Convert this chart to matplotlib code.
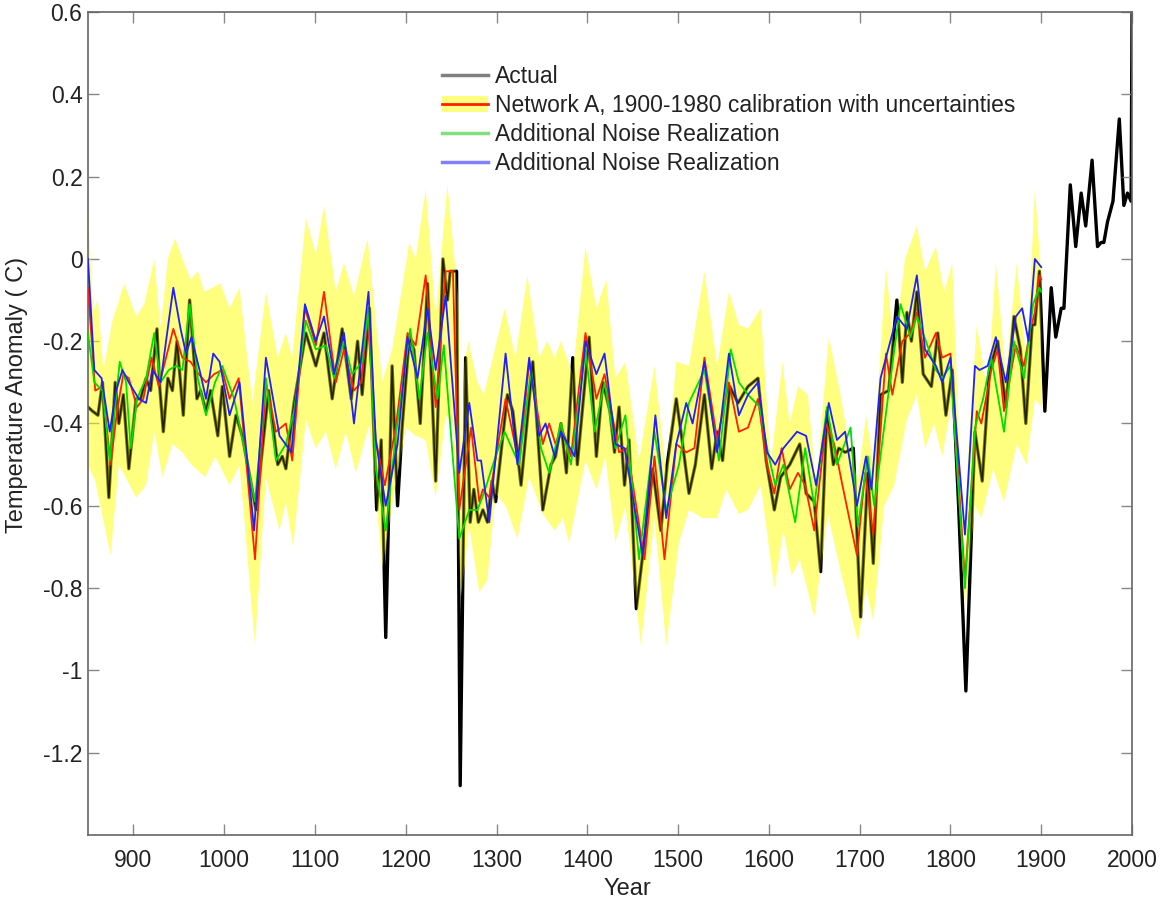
import numpy as np
import matplotlib
matplotlib.use("Agg")
import matplotlib.pyplot as plt
from matplotlib.lines import Line2D
from matplotlib.patches import Patch

plt.rcParams['font.family'] = ['Liberation Sans', 'DejaVu Sans']
plt.rcParams['axes.unicode_minus'] = False

# values (year, anomaly)
actual_years = [850, 855, 861, 866, 873, 880, 884, 889, 895, 903, 908, 914, 919, 926, 929, 933, 938, 943, 948, 955,
                962, 970, 974, 980, 985, 993, 998, 1006, 1013, 1020, 1035, 1049, 1059, 1064, 1068, 1077, 1090, 1101,
                1110, 1119, 1130, 1140, 1147, 1152, 1160, 1168, 1173, 1178, 1185, 1191, 1196, 1204, 1209, 1216, 1224,
                1233, 1241, 1246, 1249, 1256, 1260, 1266, 1271, 1275, 1280, 1285, 1290, 1295, 1299, 1312, 1318, 1327,
                1340, 1351, 1360, 1365, 1371, 1377, 1384, 1389, 1402, 1410, 1417, 1425, 1430, 1435, 1441, 1446, 1454,
                1461, 1472, 1481, 1488, 1498, 1505, 1512, 1519, 1529, 1537, 1543, 1549, 1557, 1566, 1577, 1588, 1597,
                1606, 1613, 1623, 1634, 1641, 1650, 1657, 1664, 1671, 1677, 1684, 1693, 1701, 1709, 1715, 1723, 1732,
                1741, 1747, 1752, 1757, 1763, 1770, 1779, 1786, 1795, 1802, 1809, 1817, 1827, 1835, 1843, 1852, 1861,
                1870, 1877, 1883, 1890, 1893, 1898, 1904, 1911, 1916, 1922, 1925, 1932, 1938, 1944, 1949, 1956, 1962,
                1966, 1969, 1973, 1979, 1986, 1991, 1995, 1999, 2000]
actual_vals = [-0.36, -0.37, -0.38, -0.30, -0.58, -0.30, -0.40, -0.33, -0.51, -0.34, -0.34, -0.29, -0.32, -0.17, -0.31,
               -0.42, -0.29, -0.32, -0.20, -0.38, -0.10, -0.34, -0.32, -0.37, -0.32, -0.43, -0.31, -0.48, -0.38, -0.43,
               -0.61, -0.32, -0.50, -0.48, -0.51, -0.35, -0.18, -0.26, -0.18, -0.34, -0.17, -0.34, -0.20, -0.33, -0.12,
               -0.61, -0.44, -0.92, -0.26, -0.60, -0.41, -0.19, -0.22, -0.40, -0.06, -0.54, 0.00, -0.10, -0.03, -0.03,
               -1.28, -0.24, -0.64, -0.56, -0.64, -0.61, -0.64, -0.54, -0.59, -0.33, -0.37, -0.55, -0.25, -0.61, -0.50,
               -0.48, -0.40, -0.52, -0.24, -0.50, -0.19, -0.48, -0.30, -0.37, -0.47, -0.36, -0.55, -0.44, -0.85, -0.72,
               -0.51, -0.66, -0.50, -0.34, -0.45, -0.57, -0.50, -0.33, -0.51, -0.42, -0.49, -0.31, -0.35, -0.31, -0.29,
               -0.49, -0.61, -0.53, -0.50, -0.45, -0.57, -0.59, -0.76, -0.37, -0.50, -0.46, -0.47, -0.46, -0.87, -0.52,
               -0.74, -0.33, -0.32, -0.10, -0.30, -0.13, -0.20, -0.08, -0.28, -0.31, -0.18, -0.38, -0.27, -0.60, -1.05,
               -0.42, -0.54, -0.27, -0.20, -0.36, -0.14, -0.22, -0.40, -0.16, -0.16, -0.03, -0.37, -0.07, -0.19, -0.12,
               -0.12, 0.18, 0.03, 0.16, 0.08, 0.24, 0.03, 0.04, 0.04, 0.09, 0.14, 0.34, 0.13, 0.16, 0.14, 0.60]

red_years = [850, 858, 866, 875, 882, 889, 895, 904, 911, 920, 928, 936, 944, 954, 963, 972, 980, 989, 998, 1006, 1016,
             1034, 1046, 1057, 1068, 1075, 1089, 1101, 1110, 1123, 1132, 1143, 1151, 1158, 1167, 1177, 1189, 1202, 1211,
             1222, 1233, 1244, 1252, 1259, 1272, 1281, 1285, 1292, 1310, 1325, 1336, 1351, 1358, 1365, 1372, 1382, 1398,
             1410, 1419, 1435, 1444, 1463, 1474, 1485, 1498, 1509, 1518, 1529, 1543, 1556, 1567, 1577, 1588, 1598, 1606,
             1614, 1623, 1632, 1640, 1650, 1663, 1672, 1681, 1697, 1706, 1715, 1729, 1736, 1747, 1756, 1763, 1772, 1784,
             1791, 1800, 1816, 1829, 1834, 1845, 1852, 1859, 1872, 1881, 1888, 1893, 1898, 1900]
red_vals = [-0.07, -0.32, -0.31, -0.50, -0.37, -0.28, -0.29, -0.36, -0.34, -0.24, -0.31, -0.24, -0.17, -0.24, -0.25,
            -0.28, -0.30, -0.28, -0.27, -0.34, -0.29, -0.73, -0.30, -0.42, -0.40, -0.49, -0.12, -0.21, -0.08, -0.30,
            -0.22, -0.32, -0.30, -0.14, -0.44, -0.55, -0.41, -0.18, -0.21, -0.04, -0.36, -0.03, -0.03, -0.61, -0.41,
            -0.59, -0.56, -0.58, -0.34, -0.50, -0.25, -0.45, -0.40, -0.45, -0.41, -0.48, -0.18, -0.34, -0.28, -0.47,
            -0.46, -0.73, -0.48, -0.73, -0.45, -0.47, -0.46, -0.24, -0.44, -0.30, -0.42, -0.41, -0.34, -0.50, -0.57,
            -0.46, -0.56, -0.52, -0.55, -0.66, -0.40, -0.45, -0.55, -0.72, -0.52, -0.67, -0.23, -0.33, -0.20, -0.18,
            -0.13, -0.24, -0.18, -0.24, -0.23, -0.78, -0.37, -0.40, -0.27, -0.22, -0.37, -0.21, -0.26, -0.17, -0.13,
            -0.04, -0.05]

blue_years = [850, 857, 865, 874, 881, 888, 895, 906, 914, 921, 930, 936, 944, 952, 958, 964, 974, 980, 988, 995, 1006,
              1017, 1033, 1046, 1061, 1074, 1089, 1101, 1110, 1121, 1132, 1143, 1159, 1167, 1178, 1191, 1202, 1213, 1224,
              1233, 1244, 1259, 1270, 1279, 1283, 1292, 1310, 1323, 1336, 1347, 1354, 1364, 1371, 1386, 1398, 1410, 1419,
              1431, 1441, 1461, 1475, 1487, 1498, 1509, 1516, 1529, 1543, 1556, 1567, 1577, 1588, 1598, 1607, 1616, 1631,
              1641, 1652, 1666, 1675, 1684, 1697, 1707, 1713, 1723, 1741, 1752, 1763, 1772, 1784, 1791, 1800, 1816, 1827,
              1832, 1841, 1850, 1861, 1872, 1879, 1886, 1893, 1900]
blue_vals = [0.00, -0.27, -0.29, -0.42, -0.32, -0.27, -0.30, -0.34, -0.35, -0.27, -0.30, -0.20, -0.07, -0.17, -0.23,
             -0.19, -0.28, -0.34, -0.23, -0.25, -0.38, -0.30, -0.66, -0.24, -0.43, -0.47, -0.11, -0.20, -0.14, -0.28,
             -0.18, -0.40, -0.08, -0.44, -0.60, -0.45, -0.19, -0.29, -0.12, -0.27, -0.09, -0.52, -0.35, -0.49, -0.49,
             -0.64, -0.23, -0.50, -0.24, -0.43, -0.40, -0.48, -0.42, -0.48, -0.20, -0.28, -0.23, -0.45, -0.46, -0.72,
             -0.38, -0.63, -0.45, -0.35, -0.40, -0.25, -0.47, -0.23, -0.38, -0.33, -0.30, -0.47, -0.50, -0.46, -0.42,
             -0.43, -0.55, -0.35, -0.44, -0.42, -0.60, -0.48, -0.56, -0.29, -0.14, -0.17, -0.04, -0.22, -0.26, -0.30,
             -0.24, -0.67, -0.26, -0.27, -0.26, -0.19, -0.30, -0.14, -0.12, -0.20, 0.00, -0.02]

green_years = [850, 857, 866, 874, 885, 892, 897, 904, 914, 923, 930, 939, 947, 954, 962, 971, 980, 990, 998, 1011, 1034,
               1046, 1057, 1068, 1077, 1090, 1101, 1112, 1121, 1132, 1141, 1152, 1159, 1167, 1178, 1189, 1205, 1215, 1224,
               1235, 1242, 1259, 1270, 1279, 1286, 1299, 1309, 1325, 1338, 1349, 1358, 1371, 1382, 1398, 1408, 1419, 1431,
               1442, 1457, 1474, 1487, 1501, 1512, 1529, 1545, 1558, 1567, 1577, 1590, 1598, 1607, 1616, 1629, 1640, 1650,
               1664, 1675, 1690, 1698, 1709, 1716, 1731, 1745, 1756, 1763, 1773, 1784, 1791, 1800, 1816, 1827, 1836, 1845,
               1859, 1870, 1881, 1891, 1898, 1900]
green_vals = [-0.18, -0.30, -0.32, -0.49, -0.25, -0.30, -0.46, -0.34, -0.29, -0.18, -0.30, -0.27, -0.26, -0.27, -0.11,
              -0.29, -0.38, -0.30, -0.26, -0.34, -0.59, -0.29, -0.49, -0.45, -0.37, -0.15, -0.22, -0.21, -0.29, -0.20,
              -0.28, -0.25, -0.12, -0.51, -0.66, -0.43, -0.17, -0.34, -0.18, -0.34, -0.21, -0.68, -0.61, -0.61, -0.57,
              -0.48, -0.42, -0.50, -0.27, -0.46, -0.52, -0.40, -0.50, -0.22, -0.42, -0.30, -0.46, -0.38, -0.73, -0.42,
              -0.61, -0.50, -0.35, -0.27, -0.49, -0.22, -0.30, -0.33, -0.36, -0.46, -0.55, -0.50, -0.64, -0.46, -0.60,
              -0.36, -0.50, -0.41, -0.65, -0.48, -0.60, -0.34, -0.11, -0.19, -0.14, -0.20, -0.27, -0.29, -0.26, -0.80,
              -0.41, -0.34, -0.24, -0.42, -0.20, -0.29, -0.11, -0.07, -0.08]

band_up_years = [850, 856, 861, 867, 877, 890, 903, 912, 923, 930, 938, 946, 954, 963, 971, 978, 987, 996, 1006, 1017,
                 1031, 1046, 1059, 1068, 1075, 1090, 1101, 1110, 1123, 1132, 1143, 1158, 1174, 1185, 1204, 1211, 1222,
                 1233, 1246, 1255, 1258, 1261, 1265, 1269, 1279, 1286, 1296, 1309, 1321, 1334, 1347, 1356, 1364, 1371,
                 1384, 1398, 1410, 1421, 1431, 1442, 1457, 1474, 1487, 1498, 1512, 1529, 1543, 1556, 1567, 1577, 1591,
                 1602, 1615, 1623, 1632, 1643, 1652, 1666, 1679, 1688, 1698, 1707, 1715, 1729, 1738, 1750, 1763, 1772,
                 1784, 1793, 1802, 1808, 1813, 1816, 1820, 1829, 1841, 1850, 1861, 1873, 1884, 1893, 1900]
band_up_vals = [0.12, -0.13, -0.10, -0.27, -0.15, -0.06, -0.14, -0.11, 0.00, -0.17, 0.00, 0.05, 0.00, -0.05, -0.03,
                -0.08, -0.07, -0.06, -0.12, -0.07, -0.35, -0.08, -0.24, -0.18, -0.24, 0.10, 0.01, 0.13, -0.08, -0.01,
                -0.09, 0.05, -0.30, -0.22, 0.04, 0.00, 0.17, -0.14, 0.18, -0.03, -0.10, -0.50, -0.25, -0.20, -0.30,
                -0.33, -0.24, -0.12, -0.24, -0.04, -0.24, -0.20, -0.24, -0.20, -0.28, 0.03, -0.12, -0.05, -0.29, -0.25,
                -0.49, -0.26, -0.52, -0.25, -0.26, -0.03, -0.26, -0.08, -0.16, -0.17, -0.12, -0.50, -0.25, -0.40, -0.31,
                -0.33, -0.55, -0.19, -0.33, -0.45, -0.54, -0.38, -0.50, -0.02, -0.22, 0.00, 0.08, -0.03, 0.03, -0.08,
                -0.01, -0.35, -0.62, -0.72, -0.45, -0.16, -0.33, -0.01, -0.28, -0.01, -0.26, 0.17, -0.04]

band_lo_years = [850, 858, 875, 884, 903, 914, 923, 932, 943, 954, 964, 979, 990, 1006, 1017, 1034, 1046, 1061, 1068,
                 1076, 1090, 1101, 1112, 1123, 1134, 1145, 1160, 1174, 1185, 1200, 1211, 1222, 1233, 1244, 1252, 1261,
                 1270, 1281, 1290, 1299, 1310, 1323, 1336, 1351, 1364, 1373, 1380, 1398, 1410, 1420, 1431, 1442, 1459,
                 1474, 1487, 1501, 1512, 1527, 1543, 1553, 1567, 1577, 1591, 1606, 1616, 1625, 1634, 1650, 1665, 1679,
                 1698, 1707, 1715, 1727, 1738, 1752, 1763, 1772, 1782, 1791, 1802, 1816, 1827, 1834, 1847, 1859, 1873,
                 1884, 1893, 1900]
band_lo_vals = [-0.50, -0.54, -0.72, -0.50, -0.58, -0.55, -0.42, -0.53, -0.45, -0.47, -0.50, -0.53, -0.48, -0.55, -0.50,
                -0.94, -0.53, -0.66, -0.59, -0.70, -0.39, -0.46, -0.42, -0.51, -0.42, -0.52, -0.40, -0.75, -0.60, -0.41,
                -0.43, -0.44, -0.58, -0.38, -0.40, -0.82, -0.65, -0.81, -0.78, -0.57, -0.60, -0.68, -0.53, -0.62, -0.66,
                -0.63, -0.69, -0.49, -0.56, -0.48, -0.69, -0.60, -0.94, -0.63, -0.94, -0.69, -0.61, -0.63, -0.63, -0.56,
                -0.62, -0.61, -0.55, -0.80, -0.66, -0.77, -0.73, -0.87, -0.62, -0.76, -0.93, -0.80, -0.88, -0.60, -0.55,
                -0.39, -0.33, -0.46, -0.40, -0.48, -0.34, -0.85, -0.60, -0.63, -0.51, -0.59, -0.45, -0.50, -0.34, -0.36]

labels = ["Actual", "Network A, 1900-1980 calibration with uncertainties",
          "Additional Noise Realization", "Additional Noise Realization"]

fig = plt.figure(figsize=(11.62, 8.98), dpi=100)
ax = fig.add_axes([0.0757, 0.0702, 0.8985, 0.9164])

# black first, the half-transparent band lies over it; a thin dark core on top keeps it dark
ax.plot(actual_years, actual_vals, color='black', lw=2.4, zorder=1)
band_x = np.concatenate([band_up_years, band_lo_years[::-1]])
band_y = np.concatenate([band_up_vals, band_lo_vals[::-1]])
ax.fill(band_x, band_y, color='#ffff00', alpha=0.5, lw=0, zorder=2)
ax.plot(actual_years, actual_vals, color='black', lw=1.1, alpha=0.75, zorder=2.5)
ax.plot(red_years, red_vals, color='#ff2000', lw=1.3, zorder=3)
ax.plot(green_years, green_vals, color='#00dd00', lw=1.3, zorder=4)
ax.plot(blue_years, blue_vals, color='#2020ff', lw=1.3, zorder=5)

ax.set_xlim(850, 2000)
ax.set_ylim(-1.4, 0.6)
ax.set_xticks(range(900, 2001, 100))
ax.set_yticks([0.6, 0.4, 0.2, 0, -0.2, -0.4, -0.6, -0.8, -1, -1.2])
ax.set_yticklabels(['0.6', '0.4', '0.2', '0', '-0.2', '-0.4', '-0.6', '-0.8', '-1', '-1.2'])
ax.tick_params(direction='in', top=True, right=True, length=8, width=1, color='#888888',
               labelsize=16.5, labelcolor='#222222')
ax.tick_params(axis='x', pad=10)
ax.tick_params(axis='y', pad=4)
for s in ax.spines.values():
    s.set_color('#666666')
    s.set_linewidth(1.2)

ax.set_xlabel('Year', fontsize=17, color='#222222')
ax.set_ylabel('Temperature Anomaly ( C)', fontsize=17, color='#222222')
ax.xaxis.set_label_coords(0.517, -0.052)
ax.yaxis.set_label_coords(-0.057, 0.535)

handles = [Line2D([], [], color='#808080', lw=2.5),
           (Patch(facecolor='#ffff80', edgecolor='none'), Line2D([], [], color='#ff2000', lw=2)),
           Line2D([], [], color='#80e080', lw=2.5),
           Line2D([], [], color='#8080ff', lw=2.5)]
fig.legend(handles, labels, loc='upper left', bbox_to_anchor=(0.3804, 0.928), frameon=False,
           fontsize=16.5, handlelength=2.0, handletextpad=0.3, labelspacing=0.26, borderpad=0,
           borderaxespad=0, labelcolor='#222222')

fig.savefig('out.png', dpi=100)
